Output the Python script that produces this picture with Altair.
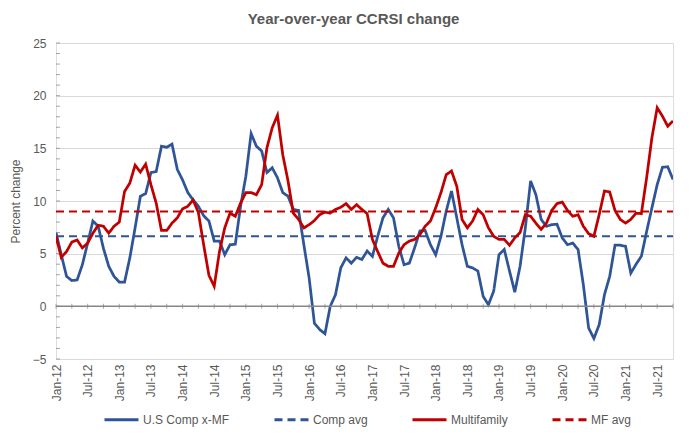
import altair as alt
import pandas as pd

# Month index 0 = Jan-12 ... 117 = Oct-21
tick_labels = ["Jan-12", "Jul-12", "Jan-13", "Jul-13", "Jan-14", "Jul-14", "Jan-15", "Jul-15",
               "Jan-16", "Jul-16", "Jan-17", "Jul-17", "Jan-18", "Jul-18", "Jan-19", "Jul-19",
               "Jan-20", "Jul-20", "Jan-21", "Jul-21"]

comp = [7.0, 4.9, 2.85, 2.45, 2.5, 3.95, 6.0, 8.1, 7.6, 5.5,
        3.8, 2.85, 2.3, 2.3, 4.6, 7.45, 10.45, 10.7, 12.7, 12.8,
        15.2, 15.1, 15.4, 13.0, 12.0, 10.8, 10.1, 9.5, 8.6, 8.1,
        6.2, 6.2, 4.9, 5.85, 5.9, 9.5, 12.35, 16.4, 15.2, 14.75,
        12.7, 13.15, 12.2, 10.8, 10.45, 9.2, 9.1, 5.85, 2.7, -1.6,
        -2.2, -2.6, 0.0, 1.1, 3.65, 4.6, 4.1, 4.65, 4.45, 5.25,
        4.75, 6.65, 8.4, 9.2, 8.4, 5.7, 3.95, 4.1, 5.55, 7.15,
        7.2, 5.85, 4.9, 6.65, 9.05, 10.95, 8.4, 5.85, 3.8, 3.65,
        3.35, 0.95, 0.15, 1.45, 4.9, 5.4, 3.35, 1.35, 3.8, 7.45,
        11.9, 10.6, 8.25, 7.6, 7.75, 7.8, 6.5, 5.85, 6.0, 5.4,
        2.05, -2.05, -3.05, -1.75, 1.1, 2.85, 5.8, 5.8, 5.7, 3.15,
        4.0, 4.75, 7.1, 9.35, 11.55, 13.2, 13.25, 12.05]

mf = [6.65, 4.65, 5.2, 6.1, 6.3, 5.55, 6.0, 6.95, 7.7, 7.6,
      6.95, 7.6, 8.0, 10.9, 11.7, 13.4, 12.75, 13.5, 11.55, 9.8,
      7.2, 7.2, 7.9, 8.4, 9.25, 9.5, 10.1, 8.9, 5.85, 2.95,
      1.9, 5.2, 7.45, 8.85, 8.55, 9.8, 10.8, 10.8, 10.6, 11.55,
      15.05, 16.95, 18.15, 14.4, 11.9, 8.85, 8.25, 7.45, 7.75, 8.15,
      8.7, 8.95, 8.85, 9.2, 9.4, 9.75, 9.2, 9.65, 9.2, 8.8,
      6.35, 5.2, 4.1, 3.8, 3.8, 5.05, 5.85, 6.2, 6.35, 6.8,
      7.6, 8.1, 9.35, 10.8, 12.5, 12.85, 11.4, 8.25, 7.45, 8.1,
      9.2, 8.7, 7.45, 6.65, 6.35, 6.35, 5.8, 6.5, 7.0, 8.7,
      8.55, 7.9, 7.3, 7.9, 9.1, 9.75, 9.9, 9.1, 8.55, 8.7,
      7.6, 6.9, 6.65, 8.7, 10.95, 10.85, 9.1, 8.25, 7.9, 8.25,
      8.85, 8.8, 12.2, 16.0, 18.85, 18.05, 17.1, 17.6]

comp_avg = 6.65
mf_avg = 9.0

series_names = ["U.S Comp x-MF", "Comp avg", "Multifamily", "MF avg"]
series_colors = ["#2f5597", "#2f5597", "#c00000", "#c00000"]
series_dash = [[1, 0], [8, 5], [1, 0], [8, 5]]

n = len(comp)
rows = []
for i in range(n):
    rows.append({"m": i, "s": series_names[0], "v": comp[i]})
    rows.append({"m": i, "s": series_names[1], "v": comp_avg})
    rows.append({"m": i, "s": series_names[2], "v": mf[i]})
    rows.append({"m": i, "s": series_names[3], "v": mf_avg})
df = pd.DataFrame(rows)

label_arr = "[" + ",".join("'" + t + "'" for t in tick_labels) + "]"

FONT = "Liberation Sans"
GREY = "#595959"

x_scale = alt.Scale(domain=[0, n - 1], nice=False, zero=False)
y_scale = alt.Scale(domain=[-5, 25], nice=False, zero=False)

x_axis = alt.Axis(values=list(range(0, 115, 6)), labelExpr=label_arr + "[round(datum.value/6)]",
                  labelAngle=270, labelAlign="right", labelBaseline="middle", labelPadding=5,
                  ticks=False, domain=False, grid=False, title=None, labelFont=FONT,
                  labelFontSize=12, labelColor=GREY, labelOverlap=False, labelFlush=False,
                  labelSeparation=0)
y_axis = alt.Axis(values=[-5, 0, 5, 10, 15, 20, 25], ticks=False, domain=False, grid=True,
                  gridColor="#d9d9d9", gridWidth=1, labelPadding=10, labelFont=FONT,
                  labelFontSize=12, labelColor=GREY, title="Percent change",
                  titleFont=FONT, titleFontSize=12, titleFontWeight="normal", titleColor=GREY,
                  titleX=-41, titleY=158, titleAngle=270, titleAlign="center",
                  titleBaseline="middle", labelOverlap=False)

legend = alt.Legend(title=None, orient="none", legendX=47, legendY=358,
                    direction="horizontal", columns=4, columnPadding=38,
                    symbolType="stroke", symbolSize=1156,
                    symbolStrokeWidth=3, labelOffset=3,
                    labelFont=FONT, labelFontSize=12, labelColor=GREY,
                    padding=0)

color_enc = alt.Color("s:N", scale=alt.Scale(domain=series_names, range=series_colors),
                      legend=legend)
dash_enc = alt.StrokeDash("s:N", scale=alt.Scale(domain=series_names, range=series_dash),
                          legend=legend)

base = alt.Chart(df).encode(
    x=alt.X("m:Q", scale=x_scale, axis=x_axis),
    y=alt.Y("v:Q", scale=y_scale, axis=y_axis),
    color=color_enc,
    strokeDash=dash_enc,
)

def layer_for(name, width):
    return base.transform_filter(alt.datum.s == name).mark_line(strokeWidth=width, clip=True)

zero_rule = alt.Chart(pd.DataFrame({"z": [0]})).mark_rule(color="#868686", strokeWidth=1.5).encode(
    y=alt.Y("z:Q", scale=y_scale, axis=y_axis)
)

quarter_ticks = pd.DataFrame({"q": list(range(0, n, 3)), "z": [0] * len(range(0, n, 3))})
zero_ticks = alt.Chart(quarter_ticks).mark_tick(color="#868686", size=5, thickness=1,
                                                orient="vertical").encode(
    x=alt.X("q:Q", scale=x_scale, axis=x_axis),
    y=alt.Y("z:Q", scale=y_scale, axis=y_axis),
)

minor = pd.DataFrame({"t": list(range(-5, 26))})
y_minor = alt.Chart(minor).mark_tick(color="#7f7f7f", size=4, thickness=1,
                                     orient="horizontal").encode(
    y=alt.Y("t:Q", scale=y_scale, axis=y_axis),
    x=alt.value(2),
)

chart = alt.layer(
    layer_for(series_names[0], 2.75),
    zero_rule,
    zero_ticks,
    y_minor,
    layer_for(series_names[1], 2),
    layer_for(series_names[2], 2.75),
    layer_for(series_names[3], 2),
).properties(
    width=617,
    height=316,
    title=alt.TitleParams(text="Year-over-year CCRSI change", fontSize=15, fontWeight="bold",
                          color=GREY, font=FONT, anchor="middle", dx=-11, offset=10),
    autosize=alt.AutoSizeParams(type="none"),
    padding={"left": 48, "top": 35, "right": 15, "bottom": 68},
).configure_view(
    fill="#f5f5f5", stroke="#404040", strokeWidth=1
).configure(background="white")

chart.save("out.html", embed_options={"renderer": "svg", "actions": False})
